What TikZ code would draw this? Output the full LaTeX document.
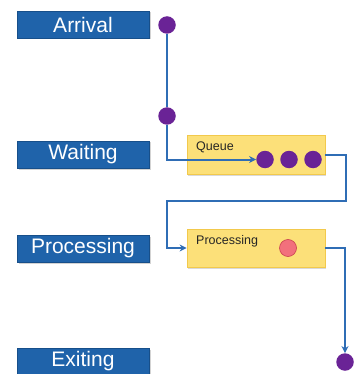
\documentclass[tikz,border=0pt]{standalone}
\usepackage{fontspec}
\setmainfont{Liberation Sans}
\usetikzlibrary{arrows.meta,shadows}
\definecolor{lblblue}{HTML}{1F63AA}
\definecolor{lblborder}{HTML}{174F8A}
\definecolor{linblue}{HTML}{2F6DB5}
\definecolor{dotpurple}{HTML}{6A2396}
\definecolor{boxyellow}{HTML}{FCE079}
\definecolor{boxborder}{HTML}{F2C94C}
\definecolor{dotred}{HTML}{F2707C}
\definecolor{dotredb}{HTML}{C8404E}
\begin{document}
\begin{tikzpicture}[x=1pt,y=-1pt,
  lbl/.style={draw=lblborder,line width=0.8pt,fill=lblblue,text=white,minimum width=132pt,minimum height=27pt,inner sep=0pt,font=\fontsize{21}{24}\selectfont,drop shadow={shadow xshift=1.5pt,shadow yshift=-1.5pt,opacity=0.35}},
  qbox/.style={draw=boxborder,line width=0.8pt,fill=boxyellow,minimum width=138pt,inner sep=0pt,drop shadow={shadow xshift=1pt,shadow yshift=-1.5pt,opacity=0.3}},
  boxlbl/.style={anchor=north west,inner sep=0pt,font=\fontsize{12.5}{14}\selectfont,text=black!85},
  pdot/.style={circle,fill=dotpurple,minimum size=17.5pt,inner sep=0pt},
  rdot/.style={circle,fill=dotred,draw=dotredb,line width=0.6pt,minimum size=17pt,inner sep=0pt},
  conn/.style={draw=linblue,line width=2pt},
  tip/.style={-{Stealth[length=7pt,width=7pt]}}
]
\useasboundingbox (0,0) rectangle (360,374);
\clip (0,0) rectangle (360,374);
% labels
\node[lbl] (arr) at (83,24.5) {Arrival};
\node[lbl] (wait) at (83,154.5) {Waiting};
\node[lbl] (proc) at (83,248.5) {Processing};
\node[lbl] (exit) at (83,361.5) {Exiting};
% boxes
\node[qbox,minimum height=39pt] (qb) at (256,154.5) {};
\node[boxlbl] (qlbl) at (196,142) {Queue};
\node[qbox,minimum height=38pt] (pb) at (256,248) {};
\node[boxlbl] (plbl) at (196,235) {Processing};
% dots
\node[pdot] (d1) at (167,25) {};
\node[pdot] (d2) at (167,116) {};
\node[pdot] (q1) at (265,159.5) {};
\node[pdot] (q2) at (289,159.5) {};
\node[pdot] (q3) at (313,159.5) {};
\node[rdot] (r1) at (288,248) {};
\node[pdot] (dx) at (345,362) {};
% connectors
\coordinate (c1) at (167,159.5);
\coordinate (c2) at (346,154.5);
\coordinate (c3) at (346,201);
\coordinate (c4) at (167,201);
\coordinate (c5) at (167,248);
\coordinate (c6) at (345,248);
\draw[conn] (d1) -- (d2);
\draw[conn,tip] (d2) -- (c1) -- (q1.west);
\draw[conn,tip] (qb.east) -- (c2) -- (c3) -- (c4) -- (c5) -- (pb.west);
\draw[conn,tip] (pb.east) -- (c6) -- (dx.north);
\end{tikzpicture}
\end{document}
